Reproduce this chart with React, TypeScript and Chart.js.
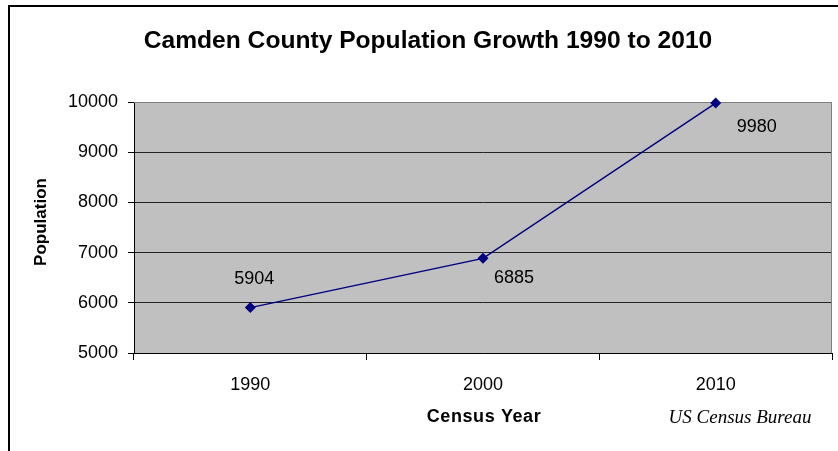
import React, { useEffect, useRef } from "react";
import { Chart, registerables } from "chart.js";
Chart.register(...registerables);

const categories = ["1990", "2000", "2010"];
const population = [5904, 6885, 9980];
const yTicks = [5000, 6000, 7000, 8000, 9000, 10000];
const chartTitle = "Camden County Population Growth 1990 to 2010";
const yAxisTitle = "Population";
const xAxisTitle = "Census Year";
const sourceNote = "US Census Bureau";
// label placement relative to each point (pixels)
const labelOffsets = [
  [4, -29],
  [31, 20],
  [41, 24],
];

const SANS = "'Liberation Sans', Arial, sans-serif";
const SERIF = "'Liberation Serif', 'Times New Roman', serif";

const decorPlugin = {
  id: "decor",
  beforeDraw(chart: any) {
    const { ctx, chartArea: a } = chart;
    ctx.save();
    ctx.fillStyle = "#ffffff";
    ctx.fillRect(0, 0, chart.width, chart.height);
    ctx.fillStyle = "#000000";
    ctx.fillRect(8, 5, chart.width, 2);
    ctx.fillRect(8, 5, 2, chart.height);
    ctx.fillStyle = "#c0c0c0";
    ctx.fillRect(a.left, a.top, a.right - a.left, a.bottom - a.top);
    ctx.restore();
  },
  beforeDatasetsDraw(chart: any) {
    const { ctx, chartArea: a } = chart;
    ctx.save();
    ctx.strokeStyle = "#808080";
    ctx.lineWidth = 1;
    ctx.beginPath();
    ctx.moveTo(a.left, a.top + 0.5);
    ctx.lineTo(a.right - 0.5, a.top + 0.5);
    ctx.lineTo(a.right - 0.5, a.bottom);
    ctx.stroke();
    ctx.restore();
  },
  afterDraw(chart: any) {
    const { ctx } = chart;
    ctx.save();
    // data labels
    const meta = chart.getDatasetMeta(0);
    ctx.fillStyle = "#000";
    ctx.font = `18px ${SANS}`;
    ctx.textAlign = "center";
    ctx.textBaseline = "middle";
    meta.data.forEach((pt: any, i: number) => {
      const [dx, dy] = labelOffsets[i];
      ctx.fillText(String(population[i]), pt.x + dx, pt.y + dy);
    });

    // title
    ctx.font = `bold 24.6px ${SANS}`;
    ctx.fillText(chartTitle, 428, 41);

    // x axis title
    ctx.font = `bold 18px ${SANS}`;
    (ctx as any).letterSpacing = "0.6px";
    ctx.fillText(xAxisTitle, 484, 417);
    (ctx as any).letterSpacing = "0px";

    // y axis title
    ctx.save();
    ctx.translate(41, 222);
    ctx.rotate(-Math.PI / 2);
    ctx.font = `bold 17px ${SANS}`;
    ctx.fillText(yAxisTitle, 0, 0);
    ctx.restore();

    // source note
    ctx.font = `italic 19px ${SERIF}`;
    ctx.fillText(sourceNote, 740, 418);
    ctx.restore();
  },
};

export default function App() {
  const ref = useRef<HTMLCanvasElement | null>(null);
  useEffect(() => {
    document.body.style.margin = "0";
    const chart = new Chart(ref.current as HTMLCanvasElement, {
      type: "line",
      data: {
        labels: categories,
        datasets: [
          {
            data: population,
            borderColor: "#000080",
            backgroundColor: "#000080",
            borderWidth: 1.5,
            pointStyle: "rectRot",
            pointRadius: 5.5,
            pointBorderWidth: 0,
            tension: 0,
            clip: false,
          },
        ],
      },
      options: {
        responsive: false,
        animation: false,
        layout: { padding: { top: 102, right: 6, left: 0, bottom: 0 } },
        plugins: { legend: { display: false }, tooltip: { enabled: false }, title: { display: false } },
        scales: {
          x: {
            type: "category",
            offset: true,
            afterFit(scale: any) {
              scale.height = 98;
            },
            grid: {
              offset: true,
              drawOnChartArea: false,
              drawTicks: true,
              tickLength: 7,
              tickColor: "#000",
              color: "#000",
            },
            border: { display: true, color: "#000", width: 1 },
            ticks: { color: "#000", font: { family: SANS, size: 18 }, padding: 14, maxRotation: 0 },
          },
          y: {
            min: 5000,
            max: 10000,
            afterBuildTicks(scale: any) {
              scale.ticks = yTicks.map((v) => ({ value: v }));
            },
            afterFit(scale: any) {
              scale.width = 134;
            },
            grid: {
              color: (c: any) => (c.tick && c.tick.value === 10000 ? "#808080" : "#222"),
              tickColor: "#000",
              tickLength: 6,
              drawTicks: true,
            },
            border: { display: true, color: "#000", width: 1 },
            ticks: {
              color: "#000",
              font: { family: SANS, size: 18 },
              padding: 10,
              callback: (v: any) => String(v),
            },
          },
        },
      },
      plugins: [decorPlugin],
    });
    return () => chart.destroy();
  }, []);
  return (
    <div style={{ position: "absolute", left: 0, top: 0, width: 838, height: 451 }}>
      <canvas ref={ref} width={838} height={451} />
    </div>
  );
}
